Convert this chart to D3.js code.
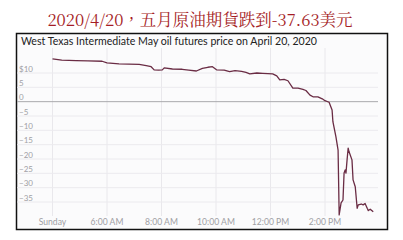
<!DOCTYPE html>
<html><head><meta charset="utf-8">
<script src="https://cdn.jsdelivr.net/npm/d3@7/dist/d3.min.js"></script>
<style>body{margin:0;background:#fff}svg{display:block}</style>
</head><body>
<script>
const mainTitle = "2020/4/20，五月原油期貨跌到-37.63美元";
const chartTitle = "West Texas Intermediate May oil futures price on April 20, 2020";
// time in decimal hours (ET), price in USD
const hours = [4.0,4.34,4.86,5.3,5.82,6.0,6.44,6.8,7.18,7.44,7.62,7.73,7.9,8.03,8.10,8.40,8.76,9.0,9.28,9.50,9.7,9.87,10.02,10.3,10.50,10.7,10.94,11.1,11.24,11.5,11.71,11.9,12.08,12.23,12.34,12.5,12.64,12.82,13.01,13.19,13.3,13.45,13.56,13.74,13.9,14.0,14.15,14.26,14.29,14.40,14.48,14.52,14.59,14.66,14.70,14.74,14.77,14.81,14.85,14.88,14.99,15.03,15.11,15.18,15.22,15.33,15.40,15.47,15.55,15.59,15.66,15.77];
const prices = [14.9,14.5,14.3,14.2,14.1,13.5,13.2,13.1,13.0,12.6,12.2,11.1,11.0,11.1,11.8,11.4,11.3,11.0,10.7,11.6,12.0,12.2,11.1,11.0,10.5,10.8,10.6,10.2,9.7,10.0,9.9,9.8,9.7,9.0,7.6,7.8,7.3,4.7,4.7,4.3,3.9,2.3,1.7,1.7,1.0,0.35,-0.2,-2.9,-7,-12.2,-16.9,-39.5,-35.3,-34.3,-24.9,-23.8,-24.9,-20.3,-16.2,-17.4,-20.3,-27.3,-29.7,-37.2,-36,-35.7,-36,-35.5,-37.2,-38,-37.5,-38.4];
const yTicks = [10,5,0,-5,-10,-15,-20,-25,-30,-35];
const xTicks = [4,6,8,10,12,14];
const xTickLabels = ["Sunday","6:00 AM","8:00 AM","10:00 AM","12:00 PM","2:00 PM"];

const W = 403, H = 240;
const svg = d3.select("body").append("svg").attr("width", W).attr("height", H);

svg.append("text").attr("x", 200).attr("y", 25.5).attr("text-anchor", "middle")
  .attr("font-family", "'Noto Serif CJK TC','Noto Sans CJK TC',serif").attr("font-size", 16.5)
  .attr("fill", "#a51d26").text(mainTitle);

// frame
svg.append("rect").attr("x", 16.5).attr("y", 33.5).attr("width", 371).attr("height", 196)
  .attr("fill", "#fbfbfc").attr("stroke", "#111").attr("stroke-width", 1.5);

svg.append("text").attr("x", 21).attr("y", 44.5)
  .attr("font-family", "Lato, 'Open Sans', sans-serif").attr("font-size", 10.6)
  .attr("fill", "#222").text(chartTitle);

const x = d3.scaleLinear().domain([4, 14]).range([52.5, 325]);
const y = d3.scaleLinear().domain([-35, 10]).range([202, 73]);

// vertical grid
svg.append("g").selectAll("line").data(xTicks).join("line")
  .attr("x1", d => x(d)).attr("x2", d => x(d)).attr("y1", 48).attr("y2", 216)
  .attr("stroke", "#e9e8ec").attr("stroke-width", 1);
// horizontal grid
svg.append("g").selectAll("line").data(yTicks).join("line")
  .attr("x1", 17).attr("x2", 378).attr("y1", d => y(d)).attr("y2", d => y(d))
  .attr("stroke", d => d === 0 ? "#a9a9ad" : "#ebeaee").attr("stroke-width", 1);

// y labels
svg.append("g").selectAll("text").data(yTicks).join("text")
  .attr("x", 19).attr("y", d => y(d) - 1.5)
  .attr("font-family", "Lato, sans-serif").attr("font-size", 8).attr("fill", "#a0a0a4")
  .text(d => d === 10 ? "$10" : (d < 0 ? "\u2212" + Math.abs(d) : String(d)));

// x labels
svg.append("g").selectAll("text").data(xTicks).join("text")
  .attr("x", d => x(d)).attr("y", 224.5).attr("text-anchor", "middle")
  .attr("font-family", "Lato, sans-serif").attr("font-size", 8.6).attr("fill", "#a0a0a4")
  .text((d, i) => xTickLabels[i]);

const pts = hours.map((h, i) => [h, prices[i]]);
svg.append("path").datum(pts)
  .attr("d", d3.line().x(d => x(d[0])).y(d => y(d[1])))
  .attr("fill", "none").attr("stroke", "#6a2c44").attr("stroke-width", 1.3)
  .attr("stroke-linejoin", "round");
</script>
</body></html>
